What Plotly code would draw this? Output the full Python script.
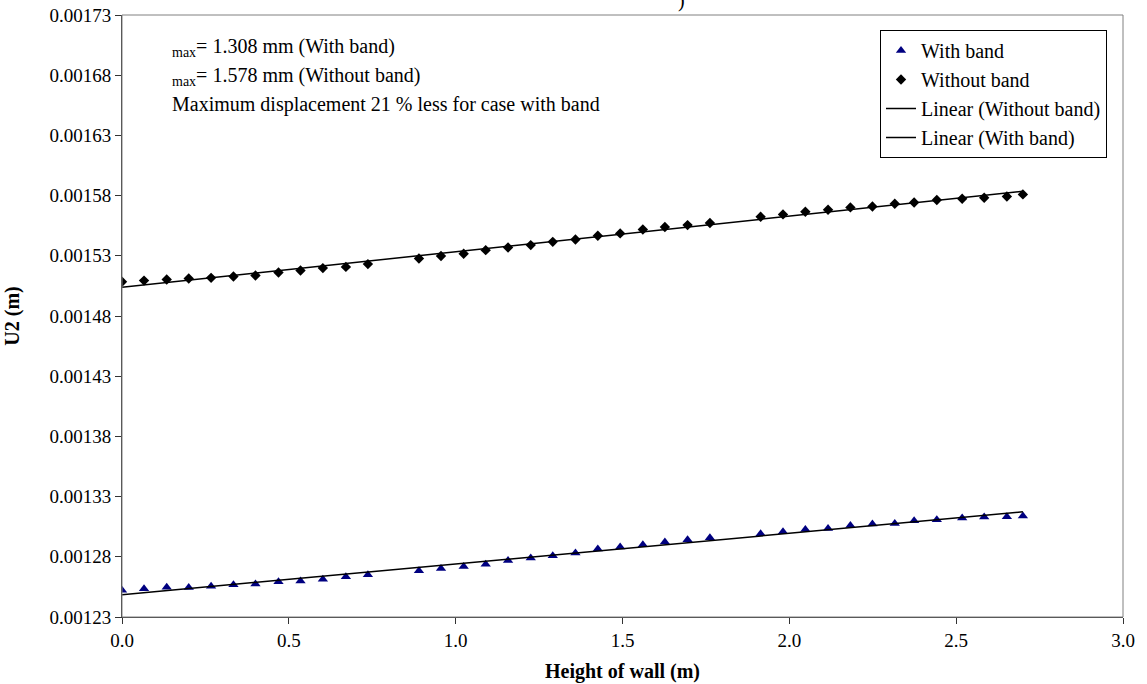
import numpy as np
import plotly.graph_objects as go

# ---- data ----
height_m = [0.0, 0.066, 0.134, 0.2, 0.267, 0.334, 0.4, 0.469, 0.535, 0.602, 0.671, 0.737,
            0.890, 0.956, 1.024, 1.090, 1.157, 1.225, 1.291, 1.359, 1.426, 1.493, 1.561, 1.627, 1.695, 1.762,
            1.914, 1.981, 2.048, 2.116, 2.183, 2.249, 2.316, 2.374, 2.442, 2.518, 2.584, 2.652, 2.700]

u2_without_band = [0.0015034, 0.0015044, 0.0015053, 0.0015061, 0.0015067, 0.0015078, 0.0015086,
                   0.0015111, 0.0015128, 0.0015148, 0.0015158, 0.0015181,
                   0.0015228, 0.0015248, 0.0015267, 0.0015297, 0.0015319, 0.0015339, 0.0015366,
                   0.0015386, 0.0015416, 0.0015436, 0.0015469, 0.0015489, 0.0015505, 0.0015522,
                   0.0015574, 0.0015594, 0.0015616, 0.0015633, 0.0015652, 0.0015660, 0.0015682,
                   0.0015693, 0.0015713, 0.0015724, 0.0015732, 0.0015743, 0.0015760]

u2_with_band = [0.0012473, 0.0012484, 0.0012498, 0.0012495, 0.0012506, 0.0012517, 0.0012525,
                0.0012542, 0.0012550, 0.0012564, 0.0012584, 0.0012600,
                0.0012634, 0.0012653, 0.0012669, 0.0012689, 0.0012719, 0.0012739, 0.0012758,
                0.0012781, 0.0012814, 0.0012831, 0.0012850, 0.0012872, 0.0012891, 0.0012908,
                0.0012941, 0.0012958, 0.0012977, 0.0012986, 0.0013011, 0.0013022, 0.0013027,
                0.0013050, 0.0013058, 0.0013072, 0.0013080, 0.0013083, 0.0013088]

y_tick_values = [0.001225, 0.001275, 0.001325, 0.001375, 0.001425, 0.001475,
                 0.001525, 0.001575, 0.001625, 0.001675, 0.001725]
y_tick_labels = ["0.00123", "0.00128", "0.00133", "0.00138", "0.00143", "0.00148",
                 "0.00153", "0.00158", "0.00163", "0.00168", "0.00173"]
x_tick_values = [0.0, 0.5, 1.0, 1.5, 2.0, 2.5, 3.0]
x_tick_labels = ["0.0", "0.5", "1.0", "1.5", "2.0", "2.5", "3.0"]

annotation_lines = ["<sub>max</sub>= 1.308 mm (With band)",
                    "<sub>max</sub>= 1.578 mm (Without band)",
                    "Maximum displacement 21 % less for case with band"]

# ---- linear trend lines (least squares, like Excel) ----
x_arr = np.array(height_m)
fit_x = np.array([min(height_m), max(height_m)])
p_wo = np.polyfit(x_arr, np.array(u2_without_band), 1)
p_w = np.polyfit(x_arr, np.array(u2_with_band), 1)

FONT = "Liberation Serif, Times New Roman, serif"
FS = 20
TFS = 19

fig = go.Figure()
fig.add_trace(go.Scatter(x=height_m, y=u2_with_band, mode="markers", name="With band",
                         marker=dict(symbol="triangle-up", size=9, color="#000080")))
fig.add_trace(go.Scatter(x=height_m, y=u2_without_band, mode="markers", name="Without band",
                         marker=dict(symbol="diamond", size=8, color="black")))
fig.add_trace(go.Scatter(x=fit_x, y=np.polyval(p_wo, fit_x), mode="lines",
                         name="Linear (Without band)",
                         line=dict(color="black", width=1.5)))
fig.add_trace(go.Scatter(x=fit_x, y=np.polyval(p_w, fit_x), mode="lines",
                         name="Linear (With band)",
                         line=dict(color="black", width=1.5)))

W, H = 1147, 684
L, R, T, B = 122, 24, 15, 67
pw, ph = W - L - R, H - T - B

# annotation lines: 48 px right of plot's left edge; below plot top
for txt, dy in zip(annotation_lines, [33, 61, 89]):
    fig.add_annotation(text=txt, xref="paper", yref="paper", x=48 / pw, y=1 - dy / ph,
                       xanchor="left", yanchor="middle", showarrow=False,
                       font=dict(family=FONT, size=FS, color="black"))

# cut-off title remnant at the top edge
fig.add_annotation(text=")", xref="paper", yref="paper", x=(681 - L) / pw, y=1 + (T - 1) / ph,
                   xanchor="center", yanchor="middle", showarrow=False,
                   font=dict(family=FONT, size=FS, color="black"))

fig.add_shape(type="rect", xref="paper", yref="paper", x0=0, y0=0, x1=1, y1=1,
              line=dict(color="#808080", width=1))

fig.update_layout(
    width=W, height=H,
    margin=dict(l=L, r=R, t=T, b=B, autoexpand=False),
    paper_bgcolor="white", plot_bgcolor="white",
    font=dict(family=FONT, size=FS, color="black"),
    showlegend=True,
    legend=dict(x=1 - 16 / pw, y=1 - 15 / ph, xanchor="right", yanchor="top",
                bgcolor="white", bordercolor="black", borderwidth=1,
                font=dict(family=FONT, size=FS, color="black"),
                traceorder="normal", itemwidth=30),
    xaxis=dict(range=[0, 3], tickvals=x_tick_values, ticktext=x_tick_labels,
               automargin=False,
               showgrid=False, zeroline=False, showline=True, linecolor="#333333",
               linewidth=1, ticks="outside", ticklen=6, tickcolor="#333333",
               tickfont=dict(family=FONT, size=TFS), ticklabeloverflow="allow",
               title=dict(text="<b>Height of wall (m)</b>", font=dict(family=FONT, size=FS),
                          standoff=14)),
    yaxis=dict(range=[0.001225, 0.001725], tickvals=y_tick_values, ticktext=y_tick_labels,
               automargin=False,
               showgrid=False, zeroline=False, showline=True, linecolor="#333333",
               linewidth=1, ticks="outside", ticklen=6, tickcolor="#333333",
               tickfont=dict(family=FONT, size=TFS), ticklabeloverflow="allow",
               title=dict(text="<b>U2 (m)</b>", font=dict(family=FONT, size=FS),
                          standoff=24)),
)

# remove the browser's default 8 px page margin so the figure fills the window
fig.write_html("out.html", config={"displayModeBar": False},
               post_script="document.body.style.margin='0px';")
